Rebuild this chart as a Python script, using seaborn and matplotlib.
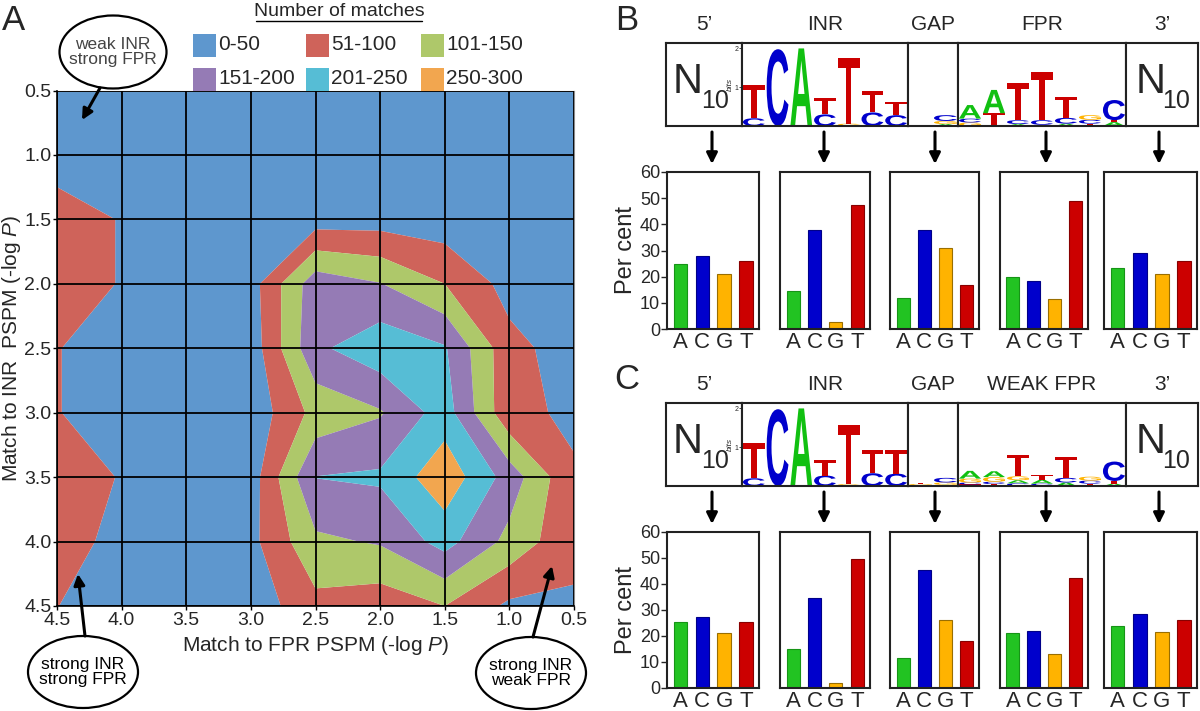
import numpy as np
import pandas as pd
import matplotlib
matplotlib.use('Agg')
import matplotlib.pyplot as plt
import seaborn as sns
from matplotlib.patches import Ellipse, Rectangle, PathPatch, FancyArrowPatch
from matplotlib.textpath import TextPath
from matplotlib.font_manager import FontProperties
from matplotlib.transforms import Affine2D
from matplotlib.lines import Line2D

# ============================================================
# DATA - panel A (number of matches on the PSPM grid)
# ============================================================
fpr_vals = [4.5, 4.0, 3.5, 3.0, 2.5, 2.0, 1.5, 1.0, 0.5]
inr_vals = [0.5, 1.0, 1.5, 2.0, 2.5, 3.0, 3.5, 4.0, 4.5]
matches = [
    [10, 8, 6, 5, 5, 6, 8, 6, 5],
    [5, 8, 6, 8, 10, 10, 10, 8, 6],
    [95, 45, 12, 15, 26, 28, 20, 12, 8],
    [95, 45, 12, 29, 180, 152, 100, 32, 15],
    [52, 25, 10, 21, 190, 233, 205, 65, 27],
    [52, 25, 10, 16, 116, 145, 224, 62, 42],
    [95, 45, 10, 25, 201, 208, 284, 178, 55],
    [80, 29, 10, 36, 140, 155, 219, 135, 60],
    [51, 20, 10, 20, 85, 70, 100, 40, 45],
]
levels = [0, 50, 100, 150, 200, 250, 300]
level_labels = ['0-50', '51-100', '101-150', '151-200', '201-250', '250-300']
level_colors = ['#5E97CE', '#CF635A', '#AEC86A', '#957BB5', '#56BDD5', '#F2A64F']

# ============================================================
# DATA - panels B / C (base composition, per cent)
# ============================================================
bases = ['A', 'C', 'G', 'T']
b_segments = ['5\u2019', 'INR', 'GAP', 'FPR', '3\u2019']
c_segments = ['5\u2019', 'INR', 'GAP', 'WEAK FPR', '3\u2019']

b_pct = [
    [25, 28, 21, 26],
    [14.5, 38, 2.5, 47.5],
    [12, 38, 31, 17],
    [20, 18.5, 11.5, 49],
    [23.5, 29, 21, 26],
]
c_pct = [
    [25.5, 27.5, 21, 25.5],
    [15, 34.5, 2, 49.5],
    [11.5, 45.5, 26, 18],
    [21, 22, 13, 42.5],
    [24, 28.5, 21.5, 26],
]

# sequence logos: per position, (base, bits) stacked bottom -> top
b_inr_logo = [[('C', 0.2), ('T', 0.87)], [('C', 1.98)], [('A', 2.0)],
              [('C', 0.3), ('T', 0.42)], [('G', 0.06), ('T', 1.7)],
              [('C', 0.35), ('T', 0.55)], [('C', 0.28), ('T', 0.35)]]
b_gap_logo = [[('G', 0.01), ('T', 0.01)], [('A', 0.05), ('G', 0.08), ('C', 0.15)]]
b_fpr_logo = [[('G', 0.09), ('C', 0.1), ('A', 0.35)], [('T', 0.33), ('A', 0.6)],
              [('A', 0.05), ('C', 0.1), ('T', 0.95)], [('G', 0.03), ('C', 0.12), ('T', 1.25)],
              [('A', 0.06), ('C', 0.15), ('T', 0.55)], [('T', 0.06), ('C', 0.1), ('G', 0.12)],
              [('A', 0.1), ('T', 0.05), ('C', 0.52)]]

c_inr_logo = [[('C', 0.2), ('T', 0.9)], [('C', 1.98)], [('A', 2.0)],
              [('C', 0.27), ('T', 0.4)], [('G', 0.05), ('T', 1.52)],
              [('C', 0.33), ('T', 0.6)], [('C', 0.32), ('T', 0.6)]]
c_gap_logo = [[('A', 0.02), ('G', 0.03), ('T', 0.03)], [('A', 0.03), ('G', 0.06), ('C', 0.12)]]
c_fpr_logo = [[('T', 0.04), ('C', 0.05), ('G', 0.1), ('A', 0.2)],
              [('T', 0.05), ('C', 0.06), ('G', 0.12), ('A', 0.15)],
              [('C', 0.07), ('A', 0.08), ('G', 0.1), ('T', 0.55)],
              [('C', 0.06), ('A', 0.1), ('T', 0.12)],
              [('A', 0.09), ('C', 0.12), ('T', 0.55)],
              [('T', 0.06), ('C', 0.08), ('G', 0.1)],
              [('A', 0.06), ('T', 0.07), ('C', 0.5)]]

bar_colors = {'A': '#22C322', 'C': '#0000CC', 'G': '#FFB300', 'T': '#CC0000'}
bar_edges = {'A': '#169416', 'C': '#000088', 'G': '#9A6E00', 'T': '#880000'}
logo_colors = {'A': '#11C011', 'C': '#0000CC', 'G': '#FFB300', 'T': '#CC0000'}

# ============================================================
# STYLE
# ============================================================
sns.set_theme(style='white')
plt.rcParams['font.family'] = ['Liberation Sans', 'DejaVu Sans']
plt.rcParams['mathtext.fontset'] = 'custom'
plt.rcParams['mathtext.rm'] = 'Liberation Sans'
plt.rcParams['mathtext.it'] = 'Liberation Sans:italic'

W, H = 1200, 711
fig = plt.figure(figsize=(12, 7.11), dpi=100)


def box(l, t, r, b):
    return [l / W, 1 - b / H, (r - l) / W, (b - t) / H]


def P(x, y):
    return (x / W, 1 - y / H)


def fig_arrow(x0, y0, x1, y1, lw=2.2, ms=16):
    fig.add_artist(FancyArrowPatch(P(x0, y0), P(x1, y1), transform=fig.transFigure,
                                   arrowstyle='-|>', mutation_scale=ms, lw=lw,
                                   color='black', shrinkA=0, shrinkB=0))


# ============================================================
# PANEL A
# ============================================================
axA = fig.add_axes(box(57, 90.5, 574, 606))
Z = np.array(matches, dtype=float)
axA.contourf(fpr_vals, inr_vals, Z, levels=levels, colors=level_colors, antialiased=True)
axA.set_xlim(4.5, 0.5)
axA.set_ylim(4.5, 0.5)
axA.set_xticks(fpr_vals)
axA.set_xticklabels([f'{v:.1f}' for v in fpr_vals], fontsize=14)
axA.set_yticks(inr_vals)
axA.set_yticklabels([f'{v:.1f}' for v in inr_vals], fontsize=14)
axA.tick_params(axis='both', direction='out', length=3, width=1, color='black',
                left=True, bottom=True, pad=1)
axA.grid(True, color='black', lw=1.3)
axA.set_axisbelow(False)
for s in ['left', 'bottom']:
    axA.spines[s].set_color('black')
    axA.spines[s].set_linewidth(1.2)
for s in ['top', 'right']:
    axA.spines[s].set_color('#8a8a8a')
    axA.spines[s].set_linewidth(0.8)
axA.set_xlabel('Match to FPR PSPM (-log $\\mathit{P}$)', fontsize=15, labelpad=4)
axA.set_ylabel('Match to INR  PSPM (-log $\\mathit{P}$)', fontsize=15, labelpad=1)

fig.text(*P(14, 21), 'A', fontsize=25, ha='center', va='center')

# legend (drawn by hand, two rows of three)
fig.text(*P(339, 12), 'Number of matches', fontsize=14, ha='center', va='center')
fig.add_artist(Line2D([P(256, 0)[0], P(422, 0)[0]], [P(0, 21)[1]] * 2,
                      transform=fig.transFigure, color='black', lw=1))
leg_x = [193, 306, 421]
leg_y = [45, 79]
for i, (lab, col) in enumerate(zip(level_labels, level_colors)):
    cx = leg_x[i % 3]
    cy = leg_y[i // 3]
    fig.add_artist(Rectangle(P(cx, cy + 11.5), 23 / W, 23 / H, transform=fig.transFigure,
                             fc=col, ec='none'))
    fig.text(*P(cx + 25, cy), lab, fontsize=15, ha='left', va='center')

# annotation bubbles
bubbles = [((113, 52), 107, 73, 'weak INR\nstrong FPR', '#444444'),
           ((83, 672), 110, 72, 'strong INR\nstrong FPR', 'black'),
           ((531, 673), 110, 72, 'strong INR\nweak FPR', 'black')]
for (cx, cy), bw, bh, txt, tc in bubbles:
    fig.add_artist(Ellipse(P(cx, cy), bw / W, bh / H, transform=fig.transFigure,
                           fill=False, ec='black', lw=1.6))
    fig.text(*P(cx, cy), txt, fontsize=12.5, ha='center', va='center', color=tc,
             linespacing=1.0)
fig_arrow(100, 88, 82, 120)
fig_arrow(85, 636, 78, 574)
fig_arrow(533, 637, 552, 566)

# ============================================================
# PANELS B / C
# ============================================================
fp_logo = FontProperties(family='Liberation Sans', weight='bold')


def draw_letter(ax, ch, x, y, w, h):
    if h <= 0:
        return
    tp = TextPath((0, 0), ch, size=1, prop=fp_logo)
    bb = tp.get_extents()
    tr = Affine2D().translate(-bb.x0, -bb.y0).scale(w / bb.width, h / bb.height).translate(x, y)
    ax.add_patch(PathPatch(tr.transform_path(tp), fc=logo_colors[ch], ec='none', lw=0))


def draw_logo(ax, logo):
    for i, stack in enumerate(logo):
        y = 0
        for ch, hgt in stack:
            draw_letter(ax, ch, i + 0.04, y, 0.92, hgt)
            y += hgt
    ax.set_xlim(0, len(logo))
    ax.set_ylim(0, 2.14)


logo_x = [666, 742, 908, 958, 1126, 1198]
seg_label_x = [704, 825, 933, 1042, 1162]
arrow_x = [712, 824, 935, 1046, 1159]
bar_x = [(667, 759), (780, 870), (890, 979), (1000, 1088), (1104, 1197)]

panels = [
    dict(letter='B', names=b_segments, pct=b_pct, logos=[b_inr_logo, b_gap_logo, b_fpr_logo],
         lab_y=25, logo_y=(43, 126), arrow_y=(132, 164), bar_y=(172, 329)),
    dict(letter='C', names=c_segments, pct=c_pct, logos=[c_inr_logo, c_gap_logo, c_fpr_logo],
         lab_y=385, logo_y=(403, 486), arrow_y=(492, 524), bar_y=(532, 688)),
]

for pan in panels:
    fig.text(*P(627, pan['lab_y'] - 5), pan['letter'], fontsize=25, ha='center', va='center')
    lt, lb = pan['logo_y']
    for k in range(5):
        fig.text(*P(seg_label_x[k], pan['lab_y']), pan['names'][k], fontsize=15,
                 ha='center', va='center')
        axL = fig.add_axes(box(logo_x[k], lt, logo_x[k + 1], lb))
        axL.set_facecolor('white')
        for s in axL.spines.values():
            s.set_color('#222222')
            s.set_linewidth(1.5)
        axL.set_xticks([])
        axL.set_yticks([])
        if k in (0, 4):
            nx = 0.29 if k == 0 else 0.34
            axL.text(nx, 0.53, 'N', fontsize=30, ha='center', va='center',
                     transform=axL.transAxes)
            axL.text(nx + 0.35, 0.3, '10', fontsize=18, ha='center', va='center',
                     transform=axL.transAxes)
        else:
            draw_logo(axL, pan['logos'][k - 1])
            if k == 1:
                axL.set_yticks([1, 2])
                axL.set_yticklabels(['1', '2'], fontsize=5)
                axL.tick_params(axis='y', length=2, width=0.6, pad=0.5, left=True)
                axL.set_ylabel('bits', fontsize=6, style='italic', labelpad=0.5)
        # arrow
        fig_arrow(arrow_x[k], pan['arrow_y'][0], arrow_x[k], pan['arrow_y'][1])
        # bar chart
        bt, bbm = pan['bar_y']
        axB = fig.add_axes(box(bar_x[k][0], bt, bar_x[k][1], bbm))
        df = pd.DataFrame({'base': bases, 'pct': pan['pct'][k]})
        sns.barplot(data=df, x='base', y='pct', hue='base', palette=bar_colors,
                    legend=False, width=0.62, ax=axB, saturation=1)
        for patch, b in zip(axB.patches, bases):
            patch.set_edgecolor(bar_edges[b])
            patch.set_linewidth(0.8)
        axB.set_ylim(0, 60)
        axB.set_xlim(-0.62, 3.6)
        axB.set_xlabel('')
        axB.set_ylabel('')
        axB.tick_params(axis='x', length=0, labelsize=16, pad=2)
        for s in axB.spines.values():
            s.set_color('#222222')
            s.set_linewidth(1.5)
        if k == 0:
            axB.set_yticks([0, 10, 20, 30, 40, 50, 60])
            axB.tick_params(axis='y', length=4, width=1, labelsize=13, pad=1, left=True,
                            direction='out')
            axB.set_ylabel('Per cent', fontsize=17, labelpad=2)
        else:
            axB.set_yticks([])

fig.savefig('out.png', dpi=100, facecolor='white')
